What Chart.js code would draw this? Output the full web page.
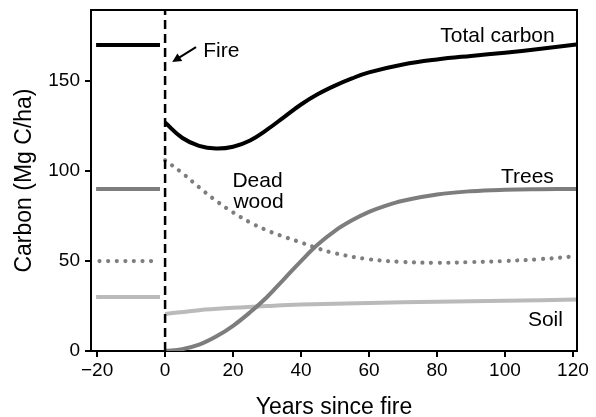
<!DOCTYPE html>
<html>
<head>
<meta charset="utf-8">
<script src="https://cdn.jsdelivr.net/npm/chart.js@4.4.1/dist/chart.umd.min.js"></script>
<style>
html,body{margin:0;padding:0;background:#fff;}
#wrap{width:596px;height:417px;position:relative;}
</style>
</head>
<body>
<div id="wrap"><canvas id="c" width="596" height="417"></canvas></div>
<script>
// ---- data ----
const xTicks = [-20, 0, 20, 40, 60, 80, 100, 120];
const yTicks = [0, 50, 100, 150];

const preYears = [-20.3, -1.5];
const preDotYears = [-19.3, -2.5];
const preTotal = [170, 170];
const preTrees = [90, 90];
const preDead = [50, 50];
const preSoil = [30, 30];

const totalYears = [0, 5, 10, 15, 20, 25, 30, 35, 40, 45, 50, 55, 60, 70, 80, 90, 100, 110, 121];
const totalCarbon = [127, 118.5, 114, 112.5, 113.5, 117, 123, 130, 137, 142.8, 147.5, 151.5, 154.8, 159.2, 162, 164, 165.8, 167.8, 170.3];

const treeYears = [0, 5, 10, 15, 20, 25, 30, 35, 40, 45, 50, 55, 60, 65, 70, 80, 90, 100, 110, 121];
const treeCarbon = [0, 1, 3.5, 8, 14, 21.5, 30, 40, 50, 59.3, 66.8, 72.6, 77.3, 80.8, 83.5, 87, 88.8, 89.6, 89.9, 90];

const deadYears = [0, 5, 10, 15, 20, 25, 30, 35, 40, 45, 50, 60, 70, 80, 90, 100, 110, 119];
const deadWood = [106, 99, 91, 83.5, 77, 71.5, 67, 63.5, 60.3, 57, 54.3, 51, 49.5, 49, 49.4, 50, 51, 52.3];

const soilYears = [0, 10, 20, 30, 40, 60, 80, 100, 121];
const soilCarbon = [20.5, 22.7, 24, 25, 25.8, 26.7, 27.3, 27.9, 28.6];

const fireLine = {years: [0, 0], values: [0, 189.5]};

// text annotations: [text, x (years), y (Mg C/ha), align]
const notes = [
  ['Total carbon', 97.8, 171.7, 'center'],
  ['Fire', 11.2, 163.3, 'left'],
  ['Dead', 27.2, 91.1, 'center'],
  ['wood', 27.5, 79.4, 'center'],
  ['Trees', 106.6, 93.3, 'center'],
  ['Soil', 111.9, 13.9, 'center']
];
const fireArrow = {from: [9.1, 168.9], to: [2.1, 160.6]};

// ---- build ----
const pts = (xs, ys) => xs.map((x, i) => ({x: x, y: ys[i]}));
const FONT = '"Liberation Sans", Arial, Helvetica, sans-serif';

const base = {pointRadius: 0, pointHoverRadius: 0, fill: false, tension: 0.4};
const solid = (data, color, order) => Object.assign({}, base, {data: data, borderColor: color, borderWidth: 4, borderCapStyle: 'butt', order: order});
const dotted = (data, color) => Object.assign({}, base, {data: data, borderColor: color, borderWidth: 4.2, borderCapStyle: 'round', borderDash: [0.01, 8.6], order: 4});

const datasets = [
  solid(pts(preYears, preTotal), '#000000', 1),
  solid(pts(preYears, preTrees), '#7d7d7d', 3),
  dotted(pts(preDotYears, preDead), '#7e7e7e'),
  solid(pts(preYears, preSoil), '#bababa', 5),
  solid(pts(totalYears, totalCarbon), '#000000', 1),
  solid(pts(treeYears, treeCarbon), '#7d7d7d', 3),
  dotted(pts(deadYears, deadWood), '#7e7e7e'),
  solid(pts(soilYears, soilCarbon), '#bababa', 5),
  Object.assign({}, base, {data: pts(fireLine.years, fireLine.values), borderColor: '#000', borderWidth: 2.5, borderDash: [9, 5], tension: 0, order: 0})
];

const annot = {
  id: 'annot',
  afterDatasetsDraw(chart) {
    const ctx = chart.ctx, xs = chart.scales.x, ys = chart.scales.y, a = chart.chartArea;
    ctx.save();
    // frame top & right
    ctx.strokeStyle = '#000';
    ctx.lineWidth = 2;
    ctx.beginPath();
    ctx.moveTo(a.left - 1, a.top);
    ctx.lineTo(a.right, a.top);
    ctx.lineTo(a.right, a.bottom + 1);
    ctx.stroke();
    // notes
    ctx.fillStyle = '#000';
    ctx.font = '21px ' + FONT;
    ctx.textBaseline = 'alphabetic';
    notes.forEach(n => {
      ctx.textAlign = n[3];
      ctx.fillText(n[0], xs.getPixelForValue(n[1]), ys.getPixelForValue(n[2]));
    });
    // arrow
    const x1 = xs.getPixelForValue(fireArrow.from[0]), y1 = ys.getPixelForValue(fireArrow.from[1]);
    const x2 = xs.getPixelForValue(fireArrow.to[0]), y2 = ys.getPixelForValue(fireArrow.to[1]);
    const ang = Math.atan2(y2 - y1, x2 - x1);
    const hl = 9, hw = 4.5;
    ctx.lineWidth = 2;
    ctx.beginPath();
    ctx.moveTo(x1, y1);
    ctx.lineTo(x2 - Math.cos(ang) * hl * 0.8, y2 - Math.sin(ang) * hl * 0.8);
    ctx.stroke();
    ctx.beginPath();
    ctx.moveTo(x2, y2);
    ctx.lineTo(x2 - Math.cos(ang) * hl - Math.sin(ang) * hw, y2 - Math.sin(ang) * hl + Math.cos(ang) * hw);
    ctx.lineTo(x2 - Math.cos(ang) * hl + Math.sin(ang) * hw, y2 - Math.sin(ang) * hl - Math.cos(ang) * hw);
    ctx.closePath();
    ctx.fill();
    ctx.restore();
  }
};

new Chart(document.getElementById('c'), {
  type: 'line',
  data: {datasets: datasets},
  options: {
    responsive: false,
    animation: false,
    events: [],
    layout: {padding: {top: 10, right: 19, left: 0, bottom: 0}},
    plugins: {legend: {display: false}, tooltip: {enabled: false}},
    scales: {
      x: {
        type: 'linear',
        min: -21.8,
        max: 121.2,
        afterBuildTicks: s => { s.ticks = xTicks.map(v => ({value: v})); },
        afterFit: s => { s.height = 66; s.paddingLeft = 0; s.paddingRight = 0; },
        border: {display: true, color: '#000', width: 2},
        grid: {display: true, drawOnChartArea: false, drawTicks: true, tickLength: 6, color: '#000', lineWidth: 2},
        ticks: {color: '#000', font: {family: FONT, size: 19}, padding: 2, maxRotation: 0,
          callback: v => String(v).replace('-', '\u2212')},
        title: {display: true, text: 'Years since fire', color: '#000', font: {family: FONT, size: 23}, padding: {top: 8, bottom: -4}}
      },
      y: {
        type: 'linear',
        min: 0,
        max: 189.5,
        afterBuildTicks: s => { s.ticks = yTicks.map(v => ({value: v})); },
        afterFit: s => { s.width = 91; s.paddingTop = 0; s.paddingBottom = 0; },
        border: {display: true, color: '#000', width: 2},
        grid: {display: true, drawOnChartArea: false, drawTicks: true, tickLength: 6, color: '#000', lineWidth: 2},
        ticks: {color: '#000', font: {family: FONT, size: 19}, padding: 5},
        title: {display: true, text: 'Carbon (Mg C/ha)', color: '#000', font: {family: FONT, size: 23}, padding: {top: 11, bottom: 0}}
      }
    }
  },
  plugins: [annot]
});
</script>
</body>
</html>
